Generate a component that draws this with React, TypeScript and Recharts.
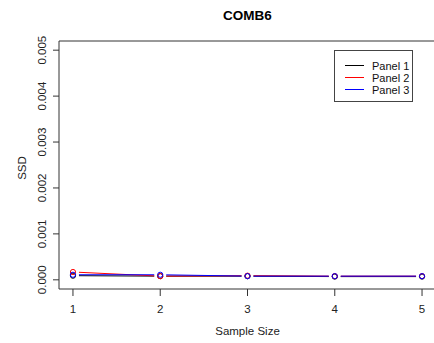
import React from "react";
import { LineChart, Line, XAxis, YAxis, ReferenceLine } from "recharts";

// --- Data ---
const sampleSizes = [1, 2, 3, 4, 5];
const panel1 = [0.00009, 0.00008, 0.00008, 0.00007, 0.00007];
const panel2 = [0.00017, 0.00008, 0.00009, 0.00008, 0.00008];
const panel3 = [0.00011, 0.00011, 0.00008, 0.00008, 0.00008];
const yTicks = [0, 0.001, 0.002, 0.003, 0.004, 0.005];
const xTicks = [1, 2, 3, 4, 5];

const seriesNames = ["Panel 1", "Panel 2", "Panel 3"];
const seriesColors = ["#000000", "#ff0000", "#0000ff"];
const seriesValues = [panel1, panel2, panel3];

const data = sampleSizes.map((s, i) => ({
  size: s,
  p1: panel1[i],
  p2: panel2[i],
  p3: panel3[i],
}));

const FONT = "'Liberation Sans', Arial, sans-serif";
const W = 440;
const H = 343;
const X_DOMAIN = [0.84, 5.16];
const Y_DOMAIN = [-0.0002, 0.0052];
const PLOT_W = 436 - 59;
const PLOT_H = 289 - 41;

// R type="b": lines stop short of each point. Build a dash pattern that leaves
// a small gap around every point, using the pixel length of each segment.
const GAP = 6;
const dashFor = (vals: number[]) => {
  const kx = PLOT_W / (X_DOMAIN[1] - X_DOMAIN[0]);
  const ky = PLOT_H / (Y_DOMAIN[1] - Y_DOMAIN[0]);
  const parts: number[] = [0, GAP];
  for (let i = 0; i < vals.length - 1; i++) {
    const dx = (sampleSizes[i + 1] - sampleSizes[i]) * kx;
    const dy = (vals[i + 1] - vals[i]) * ky;
    const len = Math.sqrt(dx * dx + dy * dy);
    parts.push(len - 2 * GAP, 2 * GAP);
  }
  return parts.map((p) => p.toFixed(2)).join(" ");
};

const YTick = (props: any) => {
  const { y, payload } = props;
  return (
    <text
      x={46}
      y={y}
      transform={`rotate(-90, 46, ${y})`}
      textAnchor="middle"
      fontSize={11.5}
      fontFamily={FONT}
      fill="#222"
    >
      {payload.value.toFixed(3)}
    </text>
  );
};

const XTick = (props: any) => {
  const { x, payload } = props;
  return (
    <text x={x} y={313} textAnchor="middle" fontSize={11.5} fontFamily={FONT} fill="#222">
      {payload.value}
    </text>
  );
};

// open circle, like R's pch=1
const circleDot = (color: string) => (p: any) => (
  <circle key={`c-${p.index}`} cx={p.cx} cy={p.cy} r={2.6} fill="none" stroke={color} strokeWidth={1} />
);

export default function App() {
  const keys = ["p1", "p2", "p3"];
  return (
    <div style={{ position: "absolute", left: 0, top: 0, width: 434, height: 343, overflow: "hidden", background: "#fff", fontFamily: FONT }}>
      <LineChart width={W} height={H} data={data} margin={{ top: 41, right: 4, bottom: 0, left: 0 }}>
        <XAxis
          dataKey="size"
          type="number"
          domain={X_DOMAIN}
          ticks={xTicks}
          allowDataOverflow
          height={54}
          stroke="#333"
          tickSize={7}
          tick={<XTick />}
        />
        <YAxis
          type="number"
          domain={Y_DOMAIN}
          ticks={yTicks}
          allowDataOverflow
          width={59}
          stroke="#333"
          tickSize={6}
          tick={<YTick />}
        />
        <ReferenceLine y={Y_DOMAIN[1]} stroke="#333" strokeWidth={1} />
        {keys.map((k, i) => (
          <Line
            key={k}
            dataKey={k}
            type="linear"
            stroke={seriesColors[i]}
            strokeWidth={1}
            strokeDasharray={dashFor(seriesValues[i])}
            dot={circleDot(seriesColors[i])}
            activeDot={false}
            isAnimationActive={false}
          />
        ))}
      </LineChart>

      {/* title */}
      <div style={{ position: "absolute", left: 0, width: 495, top: 8, textAlign: "center", fontWeight: "bold", fontSize: 13.5, color: "#000" }}>
        COMB6
      </div>

      {/* x label */}
      <div style={{ position: "absolute", left: 0, width: 495, top: 325, textAlign: "center", fontSize: 11.5, color: "#222" }}>
        Sample Size
      </div>

      {/* y label */}
      <div
        style={{
          position: "absolute",
          left: 22,
          top: 168,
          transform: "translate(-50%, -50%) rotate(-90deg)",
          fontSize: 11.5,
          color: "#222",
          whiteSpace: "nowrap",
        }}
      >
        SSD
      </div>

      {/* legend */}
      <div style={{ position: "absolute", left: 334, top: 50, width: 77, height: 50, border: "1px solid #444", background: "#fff" }}>
        <svg width={77} height={50} style={{ position: "absolute", left: 0, top: 0 }}>
          {seriesNames.map((name, i) => (
            <g key={name}>
              <line x1={10} x2={29} y1={14.5 + i * 12} y2={14.5 + i * 12} stroke={seriesColors[i]} strokeWidth={1} />
              <text x={37} y={18.5 + i * 12} fontSize={11} fontFamily={FONT} fill="#111">
                {name}
              </text>
            </g>
          ))}
        </svg>
      </div>
    </div>
  );
}
